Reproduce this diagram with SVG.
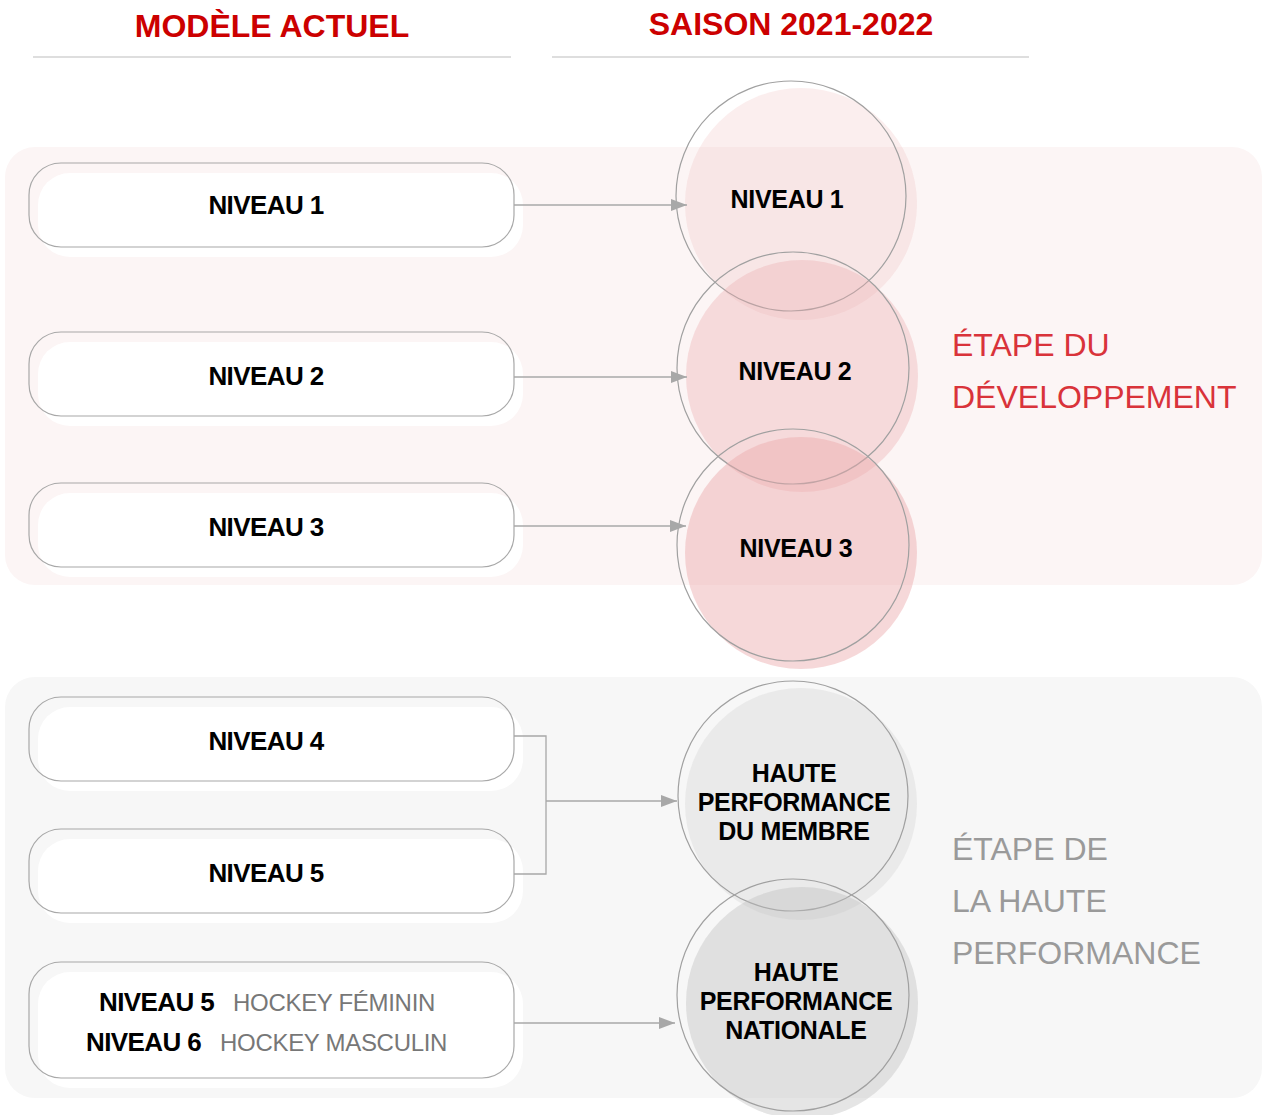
<svg xmlns="http://www.w3.org/2000/svg" width="1262" height="1115" viewBox="0 0 1262 1115">
<defs>
<style>
.hdr{font-family:"Liberation Sans",Arial,sans-serif;font-weight:bold;font-size:32px;fill:#CC0000;text-anchor:middle}
.rule{stroke:#BDBDBD;stroke-width:1.2;fill:none}
.pill{fill:none;stroke:#A8A8A8;stroke-width:1.2}
.pillbg{fill:#FFFFFF}
.t{font-family:"Liberation Sans",Arial,sans-serif;font-weight:bold;font-size:26px;letter-spacing:-0.6px;fill:#000;text-anchor:middle}
.ct{font-family:"Liberation Sans",Arial,sans-serif;font-weight:bold;font-size:25px;letter-spacing:-0.3px;fill:#000;text-anchor:middle}
.sub{font-family:"Liberation Sans",Arial,sans-serif;font-weight:normal;font-size:24px;letter-spacing:-0.3px;fill:#777}
.ring{fill:none;stroke:#A0A0A0;stroke-width:1.2}
.pk{fill:#EBA8AB}
.gy{fill:#BDBDBD}
.conn{fill:none;stroke:#A8A8A8;stroke-width:1.3}
.lblr{font-family:"Liberation Sans",Arial,sans-serif;font-size:32px;fill:#D9333A}
.lblg{font-family:"Liberation Sans",Arial,sans-serif;font-size:32px;fill:#9A9A9A}
</style>
<marker id="arr" viewBox="0 0 16 12" refX="16" refY="6" markerWidth="16" markerHeight="12" markerUnits="userSpaceOnUse" orient="auto">
<path d="M0,0 L16,6 L0,12 Z" fill="#A8A8A8"/>
</marker>
</defs>

<g id="headers">
<text class="hdr" x="272" y="37">MODÈLE ACTUEL</text>
<line class="rule" x1="33" y1="57" x2="511" y2="57"/>
<text class="hdr" x="791" y="35">SAISON 2021-2022</text>
<line class="rule" x1="552" y1="57" x2="1029" y2="57"/>
</g>

<g id="panels">
<rect x="5" y="147" width="1257" height="438" rx="30" fill="#FCF5F5"/>
<rect x="5" y="677" width="1257" height="421" rx="30" fill="#F7F7F7"/>
</g>

<g id="pill1">
<rect class="pillbg" x="38" y="173" width="485" height="84" rx="32"/>
<rect class="pill" x="29" y="163" width="485" height="84" rx="32"/>
<text class="t" x="266" y="214">NIVEAU 1</text>
</g>
<g id="pill2">
<rect class="pillbg" x="38" y="342" width="485" height="84" rx="32"/>
<rect class="pill" x="29" y="332" width="485" height="84" rx="32"/>
<text class="t" x="266" y="385">NIVEAU 2</text>
</g>
<g id="pill3">
<rect class="pillbg" x="38" y="493" width="485" height="84" rx="32"/>
<rect class="pill" x="29" y="483" width="485" height="84" rx="32"/>
<text class="t" x="266" y="536">NIVEAU 3</text>
</g>
<g id="pill4">
<rect class="pillbg" x="38" y="707" width="485" height="84" rx="32"/>
<rect class="pill" x="29" y="697" width="485" height="84" rx="32"/>
<text class="t" x="266" y="750">NIVEAU 4</text>
</g>
<g id="pill5">
<rect class="pillbg" x="38" y="839" width="485" height="84" rx="32"/>
<rect class="pill" x="29" y="829" width="485" height="84" rx="32"/>
<text class="t" x="266" y="882">NIVEAU 5</text>
</g>
<g id="pill6">
<rect class="pillbg" x="38" y="972" width="485" height="116" rx="32"/>
<rect class="pill" x="29" y="962" width="485" height="116" rx="32"/>
<text x="99" y="1011"><tspan class="t" style="text-anchor:start">NIVEAU 5</tspan><tspan class="sub" x="233">HOCKEY FÉMININ</tspan></text>
<text x="86" y="1051"><tspan class="t" style="text-anchor:start">NIVEAU 6</tspan><tspan class="sub" x="220">HOCKEY MASCULIN</tspan></text>
</g>

<g id="circle1">
<circle class="pk" cx="801" cy="204" r="116" opacity="0.2"/>
<circle class="ring" cx="791" cy="196" r="115"/>
<text class="ct" x="787" y="208">NIVEAU 1</text>
</g>
<g id="circle2">
<circle class="pk" cx="802" cy="376" r="116" opacity="0.35"/>
<circle class="ring" cx="793" cy="368" r="116"/>
<text class="ct" x="795" y="380">NIVEAU 2</text>
</g>
<g id="circle3">
<circle class="pk" cx="801" cy="553" r="116" opacity="0.45"/>
<circle class="ring" cx="793" cy="545" r="116"/>
<text class="ct" x="796" y="557">NIVEAU 3</text>
</g>
<g id="circle4">
<circle class="gy" cx="801" cy="804" r="116" opacity="0.22"/>
<circle class="ring" cx="793" cy="796" r="115"/>
<text class="ct" x="794" y="782">HAUTE</text>
<text class="ct" x="794" y="811">PERFORMANCE</text>
<text class="ct" x="794" y="840">DU MEMBRE</text>
</g>
<g id="circle5">
<circle class="gy" cx="802" cy="1003" r="116" opacity="0.4"/>
<circle class="ring" cx="793" cy="995" r="116"/>
<text class="ct" x="796" y="981">HAUTE</text>
<text class="ct" x="796" y="1010">PERFORMANCE</text>
<text class="ct" x="796" y="1039">NATIONALE</text>
</g>

<g id="labels">
<text class="lblr" x="952" y="356">ÉTAPE DU</text>
<text class="lblr" x="952" y="408">DÉVELOPPEMENT</text>
<text class="lblg" x="952" y="860">ÉTAPE DE</text>
<text class="lblg" x="952" y="912">LA HAUTE</text>
<text class="lblg" x="952" y="964">PERFORMANCE</text>
</g>

<g id="connectors">
<line class="conn" x1="514" y1="205" x2="687" y2="205" marker-end="url(#arr)"/>
<line class="conn" x1="514" y1="377" x2="687" y2="377" marker-end="url(#arr)"/>
<line class="conn" x1="514" y1="526" x2="686" y2="526" marker-end="url(#arr)"/>
<polyline class="conn" points="514,736 546,736 546,874 514,874"/>
<line class="conn" x1="546" y1="801" x2="677" y2="801" marker-end="url(#arr)"/>
<line class="conn" x1="514" y1="1023" x2="675" y2="1023" marker-end="url(#arr)"/>
</g>
</svg>
